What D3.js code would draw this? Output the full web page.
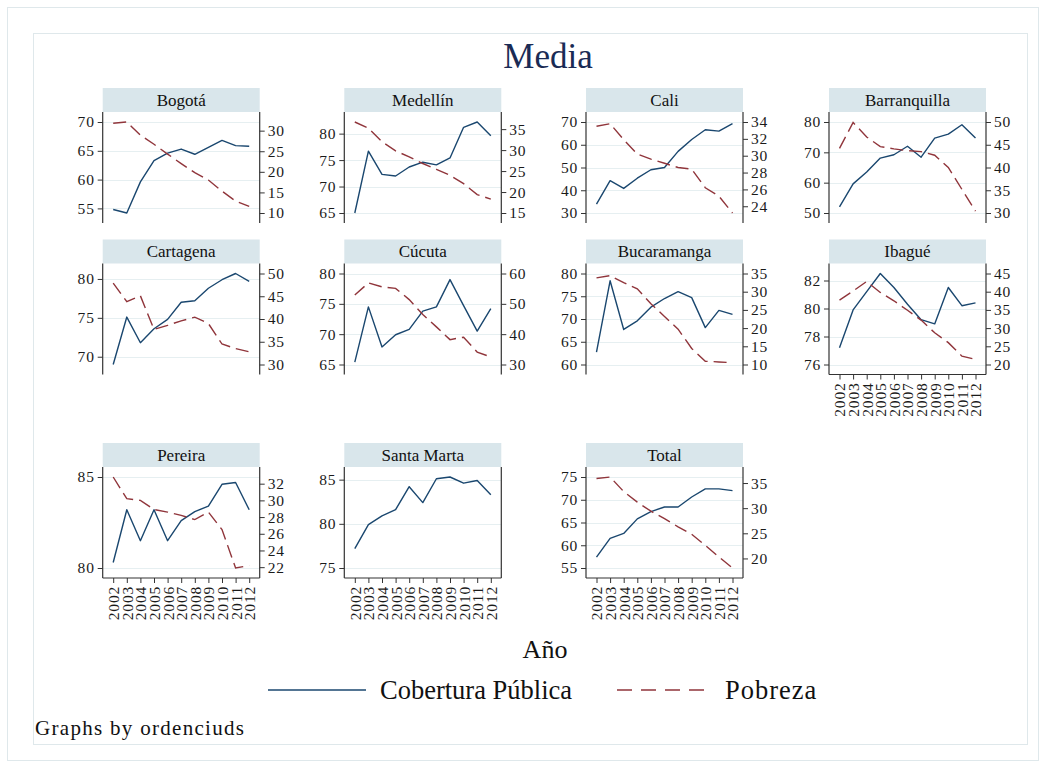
<!DOCTYPE html>
<html>
<head>
<meta charset="utf-8">
<script src="https://cdn.jsdelivr.net/npm/d3@7"></script>
<style>
  html, body { margin: 0; padding: 0; background: #ffffff; }
  svg { display: block; }
  svg text { font-family: "Liberation Serif", "Times New Roman", serif !important; }
</style>
</head>
<body>
<svg id="chart" width="1045" height="768"></svg>
<script>
// ---------------- DATA ----------------
const years = [2002, 2003, 2004, 2005, 2006, 2007, 2008, 2009, 2010, 2011, 2012];
const cityNames = ["Bogotá", "Medellín", "Cali", "Barranquilla", "Cartagena", "Cúcuta",
                   "Bucaramanga", "Ibagué", "Pereira", "Santa Marta", "Total"];

// Cobertura Pública (left axis)
const cobBogota       = [54.8, 54.2, 59.6, 63.3, 64.6, 65.3, 64.4, 65.6, 66.8, 65.9, 65.8];
const cobMedellin     = [65.0, 76.7, 72.3, 72.0, 73.7, 74.6, 74.1, 75.4, 81.2, 82.2, 79.6];
const cobCali         = [33.9, 44.2, 40.8, 45.3, 49.0, 50.0, 57.1, 62.3, 66.6, 66.0, 69.3];
const cobBarranquilla = [52.0, 59.6, 63.5, 68.1, 69.2, 72.0, 68.4, 74.7, 76.0, 79.1, 74.7];
const cobCartagena    = [69.0, 75.1, 71.8, 73.6, 74.8, 77.0, 77.2, 78.8, 79.9, 80.7, 79.7];
const cobCucuta       = [65.4, 74.5, 67.9, 69.9, 70.8, 73.8, 74.5, 79.0, 74.7, 70.5, 74.2];
const cobBucaramanga  = [62.7, 78.4, 67.7, 69.6, 72.6, 74.5, 76.0, 74.7, 68.1, 71.9, 71.0];
const cobIbague       = [77.2, 79.9, 81.2, 82.5, 81.5, 80.3, 79.2, 78.9, 81.5, 80.2, 80.4];
const cobPereira      = [80.3, 83.2, 81.5, 83.2, 81.5, 82.6, 83.1, 83.4, 84.6, 84.7, 83.2];
const cobSantaMarta   = [77.2, 79.9, 80.9, 81.6, 84.2, 82.4, 85.1, 85.3, 84.6, 84.9, 83.3];
const cobTotal        = [57.4, 61.5, 62.6, 65.8, 67.4, 68.4, 68.4, 70.6, 72.4, 72.4, 72.0];

// Pobreza (right axis)
const pobBogota       = [31.8, 32.1, 28.9, 26.7, 24.3, 22.0, 19.8, 18.0, 15.3, 12.9, 11.6];
const pobMedellin     = [36.7, 35.2, 32.0, 29.8, 28.4, 26.8, 25.4, 24.0, 22.0, 19.4, 18.3];
const pobCali         = [33.5, 33.8, 31.9, 30.2, 29.6, 29.1, 28.6, 28.4, 26.2, 25.2, 23.2];
const pobBarranquilla = [44.2, 49.9, 46.7, 44.6, 44.1, 43.7, 43.5, 42.7, 40.0, 35.2, 30.4];
const pobCartagena    = [47.9, 43.8, 45.1, 37.7, 38.6, 39.6, 40.4, 39.0, 34.5, 33.5, 32.8];
const pobCucuta       = [52.9, 56.9, 55.6, 55.1, 51.4, 46.5, 42.4, 38.2, 39.0, 34.1, 32.5];
const pobBucaramanga  = [33.8, 34.4, 32.5, 30.8, 26.7, 23.2, 19.7, 14.4, 10.9, 10.7, 10.5];
const pobIbague       = [37.7, 40.2, 42.8, 39.8, 37.5, 34.9, 32.2, 28.7, 26.0, 22.3, 21.4];
const pobPereira      = [32.8, 30.2, 30.0, 28.9, 28.6, 28.2, 27.7, 28.6, 26.5, 21.9, 22.2];
const pobSantaMarta   = [];
const pobTotal        = [35.9, 36.2, 33.3, 31.2, 29.4, 27.9, 26.3, 24.8, 22.6, 20.3, 18.1];

// Tick labels, left axis
const leftTicks = [
  [55, 60, 65, 70], [65, 70, 75, 80], [30, 40, 50, 60, 70], [50, 60, 70, 80],
  [70, 75, 80], [65, 70, 75, 80], [60, 65, 70, 75, 80], [76, 78, 80, 82],
  [80, 85], [75, 80, 85], [55, 60, 65, 70, 75]
];
// Tick labels, right axis
const rightTicks = [
  [10, 15, 20, 25, 30], [15, 20, 25, 30, 35], [24, 26, 28, 30, 32, 34], [30, 35, 40, 45, 50],
  [30, 35, 40, 45, 50], [30, 40, 50, 60], [10, 15, 20, 25, 30, 35], [20, 25, 30, 35, 40, 45],
  [22, 24, 26, 28, 30, 32], [], [20, 25, 30, 35]
];
const xTicks = years;

const cobertura = [cobBogota, cobMedellin, cobCali, cobBarranquilla, cobCartagena, cobCucuta,
                   cobBucaramanga, cobIbague, cobPereira, cobSantaMarta, cobTotal];
const pobreza = [pobBogota, pobMedellin, pobCali, pobBarranquilla, pobCartagena, pobCucuta,
                 pobBucaramanga, pobIbague, pobPereira, pobSantaMarta, pobTotal];

const titleText = "Media";
const xTitle = "Año";
const legendLabels = ["Cobertura Pública", "Pobreza"];
const noteText = "Graphs by ordenciuds";

// ---------------- LAYOUT ----------------
const W = 1045, H = 768;
const navy = "#1a476f", maroon = "#90353b";
const stripFill = "#d9e6eb", gridCol = "#e6eff1", frameCol = "#dfe8eb";
const colLeft = [102.7, 344.3, 586, 829];
const rowStripTop = [88, 239.5, 443];
const stripH = 24, plotH = 111, plotW = 157;
const pad = 10;
const bottomPanels = new Set([7, 8, 9, 10]);
const fmt = d3.format("d");

const svg = d3.select("#chart");
svg.append("rect").attr("x", 0).attr("y", 0).attr("width", W).attr("height", H).attr("fill", "#fff");
svg.append("rect").attr("x", 7.5).attr("y", 7.5).attr("width", 1031).attr("height", 753)
  .attr("fill", "none").attr("stroke", frameCol).attr("stroke-width", 1);
svg.append("rect").attr("x", 33.5).attr("y", 33.5).attr("width", 994).attr("height", 711)
  .attr("fill", "#fff").attr("stroke", frameCol).attr("stroke-width", 1);

svg.append("text").attr("x", 548).attr("y", 68).attr("text-anchor", "middle")
  .attr("font-size", 35).attr("fill", "#1a2b55").text(titleText);

const tickFont = 15.5, tickSpacing = 0.8;
function styleTicks(sel) {
  sel.selectAll("text")
    .style("font-family", "'Liberation Serif', 'Times New Roman', serif")
    .style("font-size", tickFont + "px")
    .style("letter-spacing", tickSpacing + "px")
    .attr("fill", "#1a1a1a");
  sel.selectAll("line").attr("stroke", "#333");
}

cityNames.forEach((name, i) => {
  const col = i % 4, row = Math.floor(i / 4);
  const left = colLeft[col], right = left + plotW;
  const stripTop = rowStripTop[row];
  const top = stripTop + stripH, bottom = top + plotH;
  const cob = cobertura[i], pob = pobreza[i];

  const x = d3.scaleLinear().domain(d3.extent(years)).range([left + pad + 0.5, right - pad - 0.5]);
  const yL = d3.scaleLinear().domain(d3.extent(cob.concat(leftTicks[i]))).range([bottom - pad, top + pad]);

  const g = svg.append("g");

  // strip
  g.append("rect").attr("x", left).attr("y", stripTop).attr("width", plotW).attr("height", stripH)
    .attr("fill", stripFill);
  g.append("text").attr("x", (left + right) / 2).attr("y", stripTop + 17.5).attr("text-anchor", "middle")
    .attr("font-size", 17).attr("fill", "#111").text(name);

  // grid
  g.selectAll(".grid").data(leftTicks[i]).join("line")
    .attr("x1", left).attr("x2", right)
    .attr("y1", d => Math.round(yL(d)) + 0.5).attr("y2", d => Math.round(yL(d)) + 0.5)
    .attr("stroke", gridCol).attr("stroke-width", 1.2);

  // left axis
  const axL = d3.axisLeft(yL).tickValues(leftTicks[i]).tickFormat(fmt).tickSize(5).tickPadding(3).tickSizeOuter(0);
  const gl = g.append("g").attr("transform", `translate(${left},0)`).call(axL);
  gl.select(".domain").remove();
  styleTicks(gl);
  g.append("line").attr("x1", left).attr("x2", left).attr("y1", top).attr("y2", bottom)
    .attr("stroke", "#333").attr("stroke-width", 1.2);

  // right axis
  g.append("line").attr("x1", right).attr("x2", right).attr("y1", top).attr("y2", bottom)
    .attr("stroke", "#333").attr("stroke-width", 1.2);
  let yR = null;
  if (pob.length) {
    yR = d3.scaleLinear().domain(d3.extent(pob.concat(rightTicks[i]))).range([bottom - pad, top + pad]);
    const axR = d3.axisRight(yR).tickValues(rightTicks[i]).tickFormat(fmt).tickSize(5).tickPadding(3).tickSizeOuter(0);
    const gr = g.append("g").attr("transform", `translate(${right},0)`).call(axR);
    gr.select(".domain").remove();
    styleTicks(gr);
  }

  // x axis
  if (bottomPanels.has(i)) {
    const axX = d3.axisBottom(x).tickValues(xTicks).tickFormat(fmt).tickSize(5).tickPadding(3).tickSizeOuter(0);
    const gx = g.append("g").attr("transform", `translate(0,${bottom})`).call(axX);
    gx.select(".domain").remove();
    styleTicks(gx);
    gx.selectAll("text")
      .attr("transform", "rotate(-90)").attr("text-anchor", "end")
      .attr("x", -8).attr("y", 0).attr("dy", "0.35em");
    g.append("line").attr("x1", left).attr("x2", right).attr("y1", bottom).attr("y2", bottom)
      .attr("stroke", "#333").attr("stroke-width", 1.2);
  }

  // lines
  const lineL = d3.line().x((d, k) => x(years[k])).y(d => yL(d));
  g.append("path").datum(cob).attr("d", lineL).attr("fill", "none")
    .attr("stroke", navy).attr("stroke-width", 1.4).attr("stroke-linejoin", "round");
  if (yR) {
    const lineR = d3.line().x((d, k) => x(years[k])).y(d => yR(d));
    g.append("path").datum(pob).attr("d", lineR).attr("fill", "none")
      .attr("stroke", maroon).attr("stroke-width", 1.4).attr("stroke-dasharray", "13,6");
  }
});

// x title
svg.append("text").attr("x", 545).attr("y", 658).attr("text-anchor", "middle")
  .attr("font-size", 26).attr("fill", "#111").text(xTitle);

// legend
const legY = 690;
svg.append("line").attr("x1", 268).attr("x2", 366).attr("y1", legY).attr("y2", legY)
  .attr("stroke", navy).attr("stroke-width", 1.6);
svg.append("text").attr("x", 380).attr("y", legY + 9).attr("font-size", 26.5).attr("fill", "#111").text(legendLabels[0]);
svg.append("line").attr("x1", 617).attr("x2", 711).attr("y1", legY).attr("y2", legY)
  .attr("stroke", maroon).attr("stroke-width", 1.6).attr("stroke-dasharray", "15,9");
svg.append("text").attr("x", 725).attr("y", legY + 9).attr("font-size", 26.5)
  .style("letter-spacing", "1px").attr("fill", "#111").text(legendLabels[1]);

// note
svg.append("text").attr("x", 35).attr("y", 735).attr("font-size", 21)
  .style("letter-spacing", "1.3px").attr("fill", "#111").text(noteText);
</script>
</body>
</html>
